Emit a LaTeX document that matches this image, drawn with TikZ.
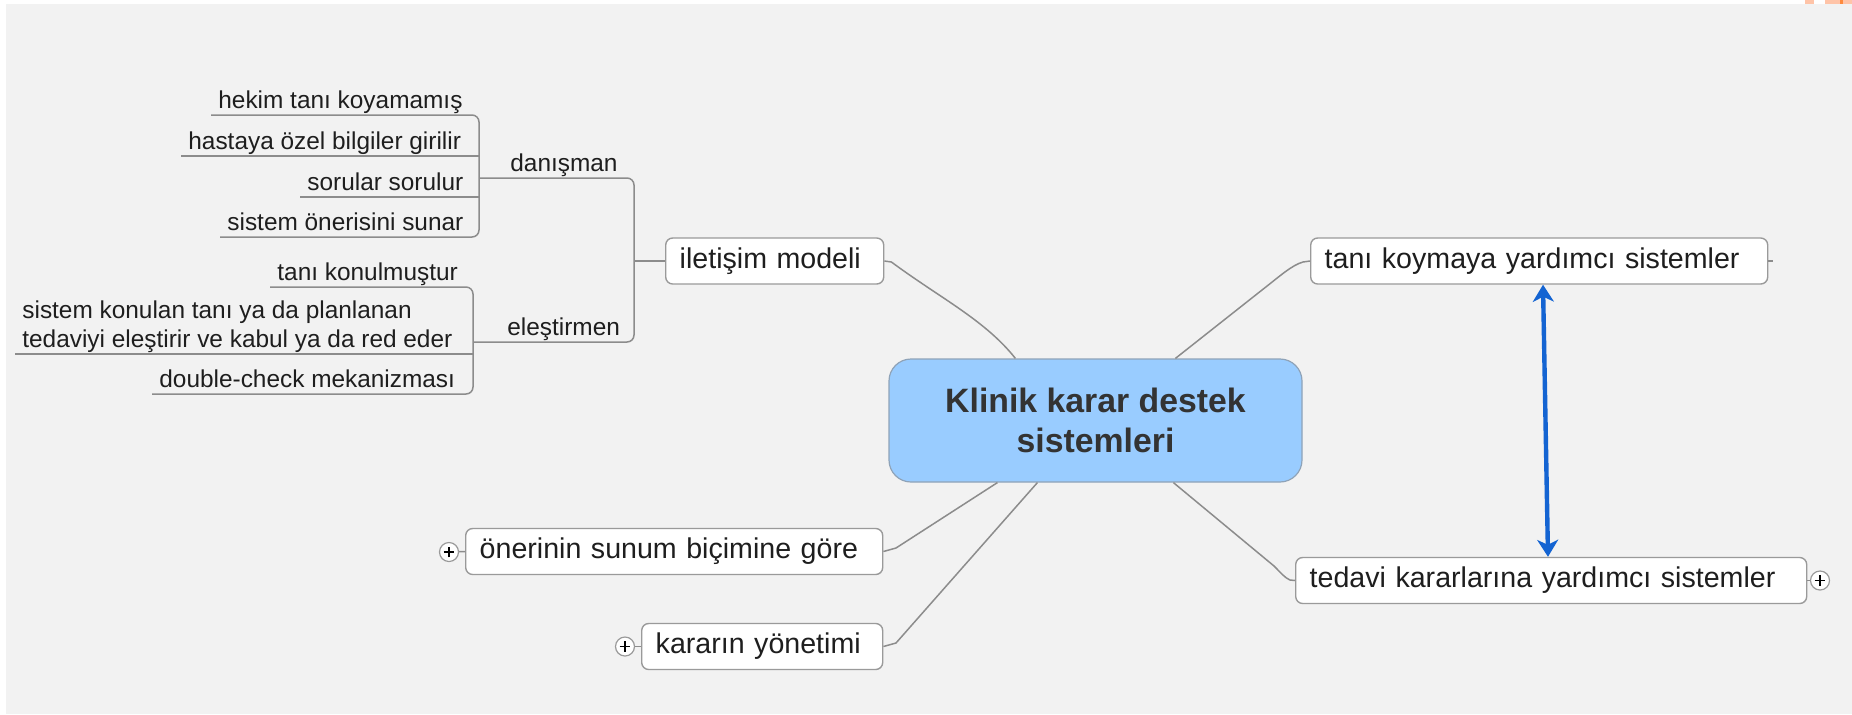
\documentclass[tikz,border=0pt]{standalone}
\usepackage{fontspec}
\setmainfont{Liberation Sans}
\usetikzlibrary{arrows.meta,calc}
\definecolor{bgc}{HTML}{F2F2F2}
\definecolor{linec}{HTML}{8C8C8C}
\definecolor{boxc}{HTML}{9A9A9A}
\definecolor{centerc}{HTML}{99CCFF}
\definecolor{centerb}{HTML}{8FA3B8}
\definecolor{arrowc}{RGB}{20,100,210}
\definecolor{textc}{HTML}{1E1E1E}
\definecolor{titlec}{HTML}{333333}
\definecolor{orl}{HTML}{FFC4A8}
\definecolor{ord}{HTML}{FF8A3D}
\begin{document}
\begin{tikzpicture}[x=0.5pt,y=-0.5pt,
  conn/.style={draw=linec, line width=0.75pt},
  leaf/.style={font=\fontsize{12.2}{14.5}\selectfont, anchor=south west, inner xsep=3.5pt, inner ysep=0pt, text depth=3pt, text=textc},
  topic/.style={draw=boxc, fill=white, line width=0.7pt, rounded corners=3.5pt, anchor=west, align=left, inner xsep=7pt, inner ysep=0pt, minimum height=23pt, font=\fontsize{14.3}{17}\selectfont, text=textc},
  central/.style={draw=centerb, fill=centerc, line width=0.6pt, rounded corners=11pt, minimum width=206.5pt, minimum height=61.5pt, align=center, font=\fontsize{16.9}{20}\selectfont\bfseries, text=titlec},
  plusc/.style={circle, draw=boxc, fill=white, line width=0.6pt, minimum size=9.5pt, inner sep=0pt,
    path picture={\draw[black, line width=0.6pt] ($(path picture bounding box.center)+(-2.7pt,0pt)$) -- ($(path picture bounding box.center)+(2.7pt,0pt)$) ($(path picture bounding box.center)+(0pt,-2.7pt)$) -- ($(path picture bounding box.center)+(0pt,2.7pt)$);}},
  biarrow/.style={draw=arrowc, line width=2.2pt, {Stealth[length=8.5pt,width=10.5pt,inset=2.5pt]}-{Stealth[length=8.5pt,width=10.5pt,inset=2.5pt]}}
]
\useasboundingbox (0,0) rectangle (1852,714);
% background
\fill[white] (0,0) rectangle (1852,714);
\fill[bgc] (6,4) rectangle (1852,714);
\fill[orl] (1805,0) rectangle (1814,4);
\fill[orl] (1825,0) rectangle (1852,4);
\fill[ord] (1840,0) rectangle (1843,4);

% central topic
\node[central] (center) at (1095.5,420.5) {Klinik karar destek\\sistemleri};

% main topics
\node[topic, text width=95pt] (ilet) at (665,261) {iletişim modeli};
\node[topic, text width=214.5pt] (tani) at (1310,261) {tanı koymaya yardımcı sistemler};
\node[topic, text width=241.5pt] (tedavi) at (1295,580.5) {tedavi kararlarına yardımcı sistemler};
\node[topic, text width=194.5pt] (oner) at (465,551.5) {önerinin sunum biçimine göre};
\node[topic, text width=106.5pt] (karar) at (641,646.5) {kararın yönetimi};

% plus markers
\node[plusc] (p1) at (449,552) {};
\node[plusc] (p2) at (625,646.5) {};
\node[plusc] (p3) at (1820,580.5) {};
\draw[conn] (p1) -- (oner.west);
\draw[conn] (p2) -- (karar.west);
\draw[conn] (tedavi.east) -- (p3);
\draw[conn] (tani.east) -- ++(5,0);

% anchor points on the central topic
\coordinate (cT1) at ($(center.north west)+(127,0)$);
\coordinate (cT2) at ($(center.north west)+(287,0)$);
\coordinate (cB1) at ($(center.south west)+(109,0)$);
\coordinate (cB2) at ($(center.south west)+(149,0)$);
\coordinate (cB3) at ($(center.south west)+(285,0)$);

% connectors from central topic
\draw[conn] (ilet.east) -- ++(7,1) .. controls (940,298) and (985,320) .. (cT1);
\draw[conn] (cT2) -- (1262,290) .. controls (1280,276) and (1292,265) .. (1303,262) -- (tani.west);
\draw[conn] (cB1) -- (896,548) -- (oner.east);
\draw[conn] (cB2) -- (896,643) -- (karar.east);
\draw[conn] (cB3) -- (1274,566) .. controls (1281,573) and (1285,578) .. (1290,580) -- (tedavi.west);

% blue relationship arrow
\coordinate (aT) at ($(tani.south west)+(233,0)$);
\coordinate (aB) at ($(tedavi.north west)+(253,0)$);
\draw[biarrow] (aT) -- (aB);

% iletisim modeli subtree
\node[leaf] (danisman) at (503,178) {danışman};
\node[leaf] (elestirmen) at (500,342) {eleştirmen};
\coordinate (b0) at (634,261);
\coordinate (b1) at (479,178);
\coordinate (b2) at (473,341);
\draw[conn] (b0) -- (ilet.west);
\draw[conn, rounded corners=3.5pt] (danisman.south west -| b1) -- (danisman.south west -| b0) -- (elestirmen.south west -| b0) -- (elestirmen.south west -| b2);

% danisman leaves
\node[leaf] (hekim) at (211,115) {hekim tanı koyamamış};
\node[leaf] (hastaya) at (181,156) {hastaya özel bilgiler girilir};
\node[leaf] (sorular) at (300,197) {sorular sorulur};
\node[leaf] (sunar) at (220,237) {sistem önerisini sunar};
\draw[conn, rounded corners=3.5pt] (hekim.south west) -- (hekim.south west -| b1) -- (sunar.south west -| b1) -- (sunar.south west);
\draw[conn] (hastaya.south west) -- (hastaya.south west -| b1);
\draw[conn] (sorular.south west) -- (sorular.south west -| b1);

% elestirmen leaves
\node[leaf] (konul) at (270,287) {tanı konulmuştur};
\node[leaf, align=left] (elest) at (15,354) {sistem konulan tanı ya da planlanan\\tedaviyi eleştirir ve kabul ya da red eder};
\node[leaf] (double) at (152,394) {double-check mekanizması};
\draw[conn, rounded corners=3.5pt] (konul.south west) -- (konul.south west -| b2) -- (double.south west -| b2) -- (double.south west);
\draw[conn] (elest.south west) -- (elest.south west -| b2);
\end{tikzpicture}
\end{document}
